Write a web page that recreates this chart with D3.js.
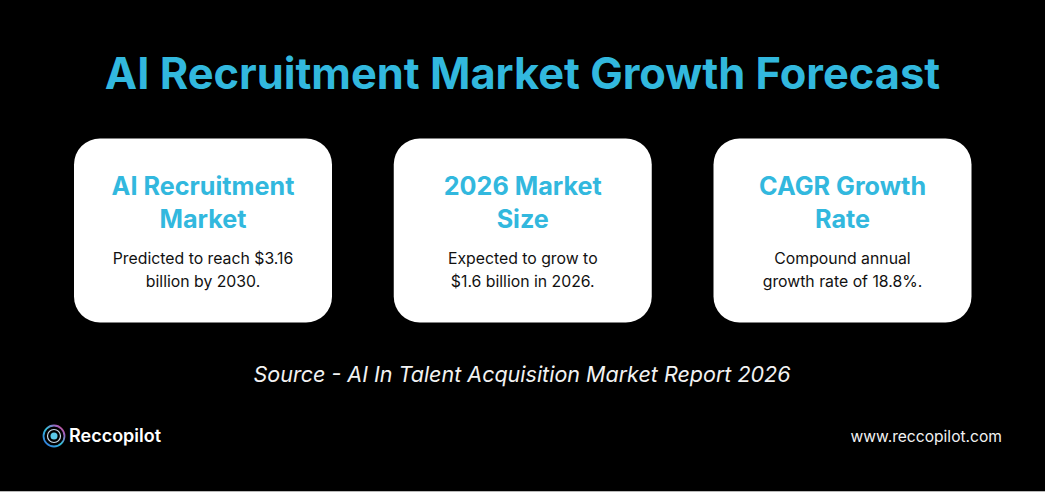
<!DOCTYPE html>
<html>
<head>
<meta charset="utf-8">
<script src="https://cdn.jsdelivr.net/npm/d3@7"></script>
<style>
  html, body { margin: 0; padding: 0; background: #000; }
  svg { display: block; }
</style>
</head>
<body>
<div id="chart"></div>
<script>
const titleText = "AI Recruitment Market Growth Forecast";
const cardHeadings = [["AI Recruitment", "Market"], ["2026 Market", "Size"], ["CAGR Growth", "Rate"]];
const cardBodies = [
  ["Predicted to reach $3.16", "billion by 2030."],
  ["Expected to grow to", "$1.6 billion in 2026."],
  ["Compound annual", "growth rate of 18.8%."]
];
const sourceText = "Source - AI In Talent Acquisition Market Report 2026";
const brandName = "Reccopilot";
const siteUrl = "www.reccopilot.com";

const width = 1045, height = 492;
const cardWidth = 258, cardHeight = 184, cardTop = 138.5;
const blue = "#32b8de";
const font = "Inter, 'Open Sans', sans-serif";

const svg = d3.select("#chart").append("svg")
  .attr("width", width)
  .attr("height", height)
  .style("background", "#000");

// Title
svg.append("text")
  .attr("x", 522.5).attr("y", 89)
  .attr("text-anchor", "middle")
  .attr("font-family", font)
  .attr("font-weight", 700)
  .attr("font-size", 43.4)
  .attr("fill", blue)
  .text(titleText);

// Cards
const xCard = d3.scalePoint().domain(d3.range(cardHeadings.length)).range([203, 842.5]);

const cards = svg.append("g").selectAll("g")
  .data(cardHeadings)
  .join("g")
  .attr("transform", (d, i) => `translate(${xCard(i)}, 0)`);

cards.append("rect")
  .attr("x", -cardWidth / 2)
  .attr("y", cardTop)
  .attr("width", cardWidth)
  .attr("height", cardHeight)
  .attr("rx", 26)
  .attr("fill", "#fff");

cards.each(function (d, i) {
  const card = d3.select(this);
  d.forEach((line, j) => {
    card.append("text")
      .attr("y", 195 + j * 33)
      .attr("text-anchor", "middle")
      .attr("font-family", font)
      .attr("font-weight", 700)
      .attr("font-size", 25.2)
      .attr("fill", blue)
      .text(line);
  });
  cardBodies[i].forEach((line, j) => {
    card.append("text")
      .attr("y", 264 + j * 22.5)
      .attr("text-anchor", "middle")
      .attr("font-family", font)
      .attr("font-size", 15.8)
      .attr("fill", "#111")
      .text(line);
  });
});

// Source
svg.append("text")
  .attr("x", 522).attr("y", 382)
  .attr("text-anchor", "middle")
  .attr("font-family", font)
  .attr("font-style", "italic")
  .attr("font-size", 21.5)
  .attr("fill", "#f2f2f2")
  .text(sourceText);

// Logo
const defs = svg.append("defs");
const grad = defs.append("linearGradient").attr("id", "logoGrad")
  .attr("x1", "0").attr("y1", "1").attr("x2", "1").attr("y2", "0");
[["0%", "#2f6fe0"], ["50%", "#35c0d8"], ["80%", "#a060c0"], ["100%", "#e8506a"]].forEach(([o, c]) => {
  grad.append("stop").attr("offset", o).attr("stop-color", c);
});
const logo = svg.append("g").attr("transform", "translate(54, 436)");
logo.append("circle").attr("r", 10.5).attr("fill", "none").attr("stroke", "url(#logoGrad)").attr("stroke-width", 1.8);
logo.append("circle").attr("r", 6.5).attr("fill", "none").attr("stroke", "#c8d8e8").attr("stroke-width", 1.2);
logo.append("circle").attr("r", 3.5).attr("fill", "#5cc8e8");

svg.append("text")
  .attr("x", 69).attr("y", 442)
  .attr("font-family", font)
  .attr("font-weight", 600)
  .attr("font-size", 18)
  .attr("fill", "#fff")
  .text(brandName);

svg.append("text")
  .attr("x", 1002).attr("y", 442)
  .attr("text-anchor", "end")
  .attr("font-family", font)
  .attr("font-size", 15.6)
  .attr("fill", "#f2f2f2")
  .text(siteUrl);

// Thin light edge along the bottom of the image
svg.append("rect")
  .attr("x", 0).attr("y", height - 1)
  .attr("width", width).attr("height", 1)
  .attr("fill", "#b8b8b8");
</script>
</body>
</html>
